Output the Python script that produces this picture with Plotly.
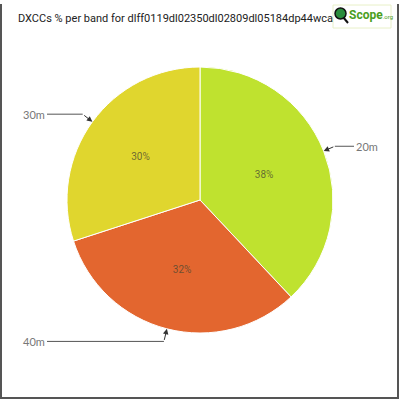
import numpy as np
import plotly.graph_objects as go

# DXCC share per band
bands = ['20m', '40m', '30m']
shares = [38, 32, 30]
colors = ['#bfe22f', '#e3662f', '#e0d62e']

title = 'DXCCs % per band for dlff0119dl02350dl02809dl05184dp44wca'

W = H = 400
cx, cy, r = 200, 200, 133

fig = go.Figure()
fig.add_trace(go.Pie(
    labels=bands, values=shares, sort=False, direction='clockwise', rotation=0,
    marker=dict(colors=colors, line=dict(color='white', width=1)),
    textinfo='percent', textposition='inside', insidetextorientation='horizontal',
    texttemplate='%{percent:.0%}',
    textfont=dict(family='Roboto', size=10, color='rgba(70,70,50,0.75)'),
    showlegend=False, hoverinfo='label+percent',
    domain=dict(x=[(cx - r) / W, (cx + r) / W], y=[(H - cy - r) / H, (H - cy + r) / H]),
))

# outside labels with elbow connectors, placed from the slice mid angles
total = sum(shares)
start = 0
for band, val in zip(bands, shares):
    mid = np.radians((start + val / 2) / total * 360)
    start += val
    s, c = np.sin(mid), np.cos(mid)
    tipx, tipy = cx + r * s, cy - r * c
    side = 1 if s >= 0 else -1
    ly = cy - 146 * c
    ex = tipx + side * 12 * abs(s)
    lx = 354 if side > 0 else 47
    fig.add_annotation(x=tipx / W, y=1 - tipy / H, xref='paper', yref='paper',
                       ax=ex - tipx, ay=ly - tipy, showarrow=True, text='',
                       arrowhead=2, arrowsize=1.1, arrowwidth=1, arrowcolor='#333')
    fig.add_shape(type='line', xref='paper', yref='paper',
                  x0=lx / W, x1=ex / W, y0=1 - ly / H, y1=1 - ly / H,
                  line=dict(color='#555', width=1))
    fig.add_annotation(x=lx / W, y=1 - ly / H, xref='paper', yref='paper',
                       text=band, showarrow=False,
                       xanchor='left' if side > 0 else 'right', yanchor='middle',
                       font=dict(family='Lato', size=11, color='#777'))

# title
fig.add_annotation(x=16 / W, y=1 - 18 / H, xref='paper', yref='paper', text=title,
                   showarrow=False, xanchor='left', yanchor='middle',
                   font=dict(family='Roboto', size=11, color='#222'))

# logo
fig.add_shape(type='rect', xref='paper', yref='paper', x0=333 / W, x1=391 / W,
              y0=1 - 28 / H, y1=1 - 5 / H, line=dict(color='#e8f0c8', width=1))
fig.add_shape(type='line', xref='paper', yref='paper', x0=343 / W, x1=348 / W,
              y0=1 - 17 / H, y1=1 - 23 / H, line=dict(color='#111', width=2))
fig.add_shape(type='circle', xref='paper', yref='paper', x0=335 / W, x1=346 / W,
              y0=1 - 19 / H, y1=1 - 8 / H, fillcolor='#2a8c3c', line=dict(color='#111', width=1.5))
fig.add_annotation(x=347 / W, y=1 - 15 / H, xref='paper', yref='paper',
                   text="<b>Scope</b><span style='font-size:6px'>.org</span>",
                   showarrow=False, xanchor='left', yanchor='middle',
                   font=dict(family='Roboto', size=12, color='#4a9e22'))

# frame
fig.add_shape(type='path', xref='paper', yref='paper',
              path=f'M {1 / W},{1 - 4 / H} L {1 / W},{1 - 398 / H} L {398 / W},{1 - 398 / H} L {398 / W},{1 - 4 / H}',
              line=dict(color='#555', width=2))

fig.update_layout(width=W, height=H, margin=dict(l=0, r=0, t=0, b=0),
                  paper_bgcolor='white', plot_bgcolor='white')
fig.write_html('out.html', config={'displayModeBar': False},
               post_script="document.body.style.margin='0';")
